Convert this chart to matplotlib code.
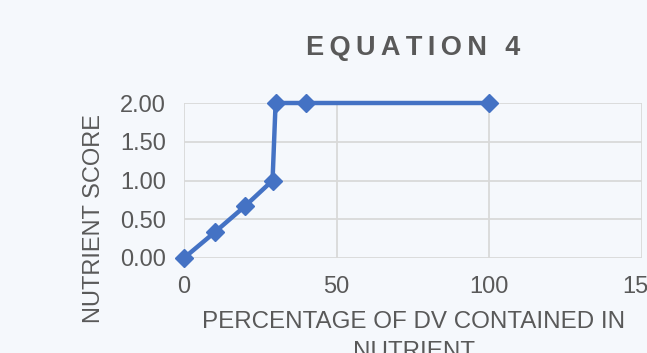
import matplotlib.pyplot as plt

# --- DATA ---
pct_dv = [0, 10, 20, 29, 30, 40, 100]
score = [0.0, 0.33, 0.67, 1.0, 2.0, 2.0, 2.0]
x_ticks = [0, 50, 100, 150]
y_ticks = [0.0, 0.5, 1.0, 1.5, 2.0]

# --- STYLE ---
plt.rcParams['font.family'] = ['Liberation Sans', 'DejaVu Sans']
bg = '#F5F8FC'
grey = '#595959'
grid = '#D9D9D9'
blue = '#4472C4'

fig = plt.figure(figsize=(6.47, 3.53), dpi=100, facecolor=bg)
ax = fig.add_axes([184 / 647, 1 - 258 / 353, 458 / 647, 155 / 353])
ax.set_facecolor(bg)

ax.plot(pct_dv, score, color=blue, lw=3.2, marker='D', ms=9,
        mec=blue, mfc=blue, clip_on=False, zorder=3)

ax.set_xlim(0, 150)
ax.set_ylim(0, 2)
ax.set_xticks(x_ticks)
ax.set_yticks(y_ticks)
ax.set_yticklabels([f'{v:.2f}' for v in y_ticks])
ax.tick_params(length=0, labelsize=17, colors=grey)
ax.tick_params(axis='y', pad=13)
ax.tick_params(axis='x', pad=13)

ax.grid(True, color=grid, lw=1.3)
ax.set_axisbelow(True)
for s in ax.spines.values():
    s.set_visible(False)

ax.set_ylabel('NUTRIENT SCORE', fontsize=17, color=grey)
ax.yaxis.set_label_coords(-0.172, 0.255)
fig.text(414 / 647, 1 - 311 / 353, 'PERCENTAGE OF DV CONTAINED IN\nNUTRIENT',
         ha='center', va='top', fontsize=17.4, color=grey, linespacing=1.45)

fig.text(413 / 647, 1 - 48 / 353, '\u2009'.join('EQUATION 4'), ha='center',
         va='center', fontsize=19.5, fontweight='bold', color=grey)

fig.savefig('out.png', dpi=100, facecolor=bg)
